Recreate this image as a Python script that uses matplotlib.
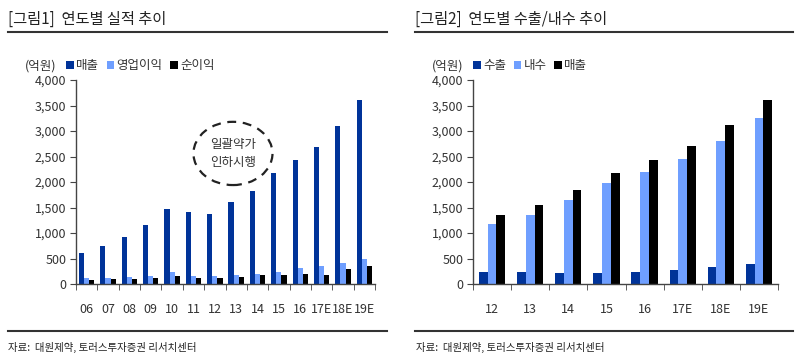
import matplotlib
matplotlib.use("Agg")
import matplotlib.pyplot as plt
import numpy as np
from matplotlib.patches import Ellipse

plt.rcParams['font.family'] = ['Noto Sans CJK KR', 'DejaVu Sans']

# 그림1 데이터
years1 = ["06", "07", "08", "09", "10", "11", "12", "13", "14", "15", "16", "17E", "18E", "19E"]
sales1 = [610, 745, 920, 1165, 1465, 1410, 1380, 1600, 1830, 2180, 2425, 2685, 3100, 3600]
op_profit = [112, 112, 130, 150, 237, 150, 150, 170, 190, 243, 322, 355, 408, 487]
net_profit = [72, 92, 92, 112, 151, 112, 112, 131, 171, 171, 190, 171, 296, 355]

# 그림2 데이터
years2 = ["12", "13", "14", "15", "16", "17E", "18E", "19E"]
export = [227, 240, 208, 220, 240, 280, 338, 396]
domestic = [1169, 1357, 1656, 1974, 2200, 2442, 2805, 3247]
sales2 = [1357, 1558, 1845, 2182, 2422, 2701, 3110, 3600]

C_DARK = "#003399"
C_LIGHT = "#6f9fff"
C_BLACK = "#000000"
TXT = "#333333"

fig = plt.figure(figsize=(8, 3.6), dpi=100)


def style_axis(ax, labels):
    n = len(labels)
    ax.set_ylim(0, 4000)
    ax.set_yticks(np.arange(0, 4001, 500))
    ax.set_yticklabels([f"{v:,}" for v in range(0, 4001, 500)], fontsize=9, color=TXT)
    ax.set_xticks(np.arange(n))
    ax.set_xticklabels(labels, fontsize=9, color=TXT)
    ax.set_xticks(np.arange(n + 1) - 0.5, minor=True)
    ax.tick_params(axis="x", which="major", length=0, pad=14)
    ax.tick_params(axis="x", which="minor", length=4, direction="out", color="#444444")
    ax.tick_params(axis="y", length=4, direction="out", color="#444444", pad=3)
    for s in ("top", "right"):
        ax.spines[s].set_visible(False)
    for s in ("left", "bottom"):
        ax.spines[s].set_color("#444444")
        ax.spines[s].set_linewidth(1)


def header(x0, x1, title, src_x):
    fig.text(x0 / 800, 1 - 19 / 360, title, fontsize=11, color="#222222", va="center", ha="left")
    fig.add_artist(plt.Line2D([x0 / 800, x1 / 800], [1 - 32 / 360] * 2, color="#333333", lw=1.5))
    fig.add_artist(plt.Line2D([x0 / 800, x1 / 800], [1 - 331 / 360] * 2, color="#333333", lw=1.5))
    fig.text(src_x / 800, 1 - 347 / 360, "자료:  대원제약, 토러스투자증권 리서치센터",
             fontsize=7.5, color="#222222", va="center", ha="left")


# 왼쪽 차트
ax1 = fig.add_axes([76 / 800, 76 / 360, 299 / 800, 204 / 360])
x1 = np.arange(len(years1))
w1 = 0.24
b1 = ax1.bar(x1 - w1, sales1, w1, color=C_DARK, label="매출")
b2 = ax1.bar(x1, op_profit, w1, color=C_LIGHT, label="영업이익")
b3 = ax1.bar(x1 + w1, net_profit, w1, color=C_BLACK, label="순이익")
ax1.set_xlim(-0.5, len(years1) - 0.5)
style_axis(ax1, years1)
ax1.add_patch(Ellipse((6.85, 2560), 3.7, 1240, fill=False, ls=(0, (4, 3)), lw=1.6, ec="#222222"))
ax1.text(6.85, 2560, "일괄약가\n인하시행", ha="center", va="center", fontsize=9,
         color=TXT, linespacing=1.5)
fig.text(25 / 800, 1 - 66 / 360, "(억원)", fontsize=9, color=TXT, va="center")
ax1.legend(handles=[b1, b2, b3], ncol=3, frameon=False, fontsize=9,
           loc="center left", bbox_to_anchor=(-0.05, 1.07),
           handlelength=0.6, handleheight=0.6, handletextpad=0.2, columnspacing=0.6,
           borderaxespad=0, labelcolor=TXT)
header(8, 387, "[그림1]  연도별 실적 추이", 8)

# 오른쪽 차트
ax2 = fig.add_axes([473 / 800, 76 / 360, 305 / 800, 204 / 360])
x2 = np.arange(len(years2))
w2 = 0.23
c1 = ax2.bar(x2 - w2, export, w2, color=C_DARK, label="수출")
c2 = ax2.bar(x2, domestic, w2, color=C_LIGHT, label="내수")
c3 = ax2.bar(x2 + w2, sales2, w2, color=C_BLACK, label="매출")
ax2.set_xlim(-0.5, len(years2) - 0.76)
style_axis(ax2, years2)
fig.text(432 / 800, 1 - 66 / 360, "(억원)", fontsize=9, color=TXT, va="center")
ax2.legend(handles=[c1, c2, c3], ncol=3, frameon=False, fontsize=9,
           loc="center left", bbox_to_anchor=(-0.015, 1.07),
           handlelength=0.6, handleheight=0.6, handletextpad=0.2, columnspacing=0.6,
           borderaxespad=0, labelcolor=TXT)
header(415, 793, "[그림2]  연도별 수출/내수 추이", 416)

fig.savefig("out.png", dpi=100)
